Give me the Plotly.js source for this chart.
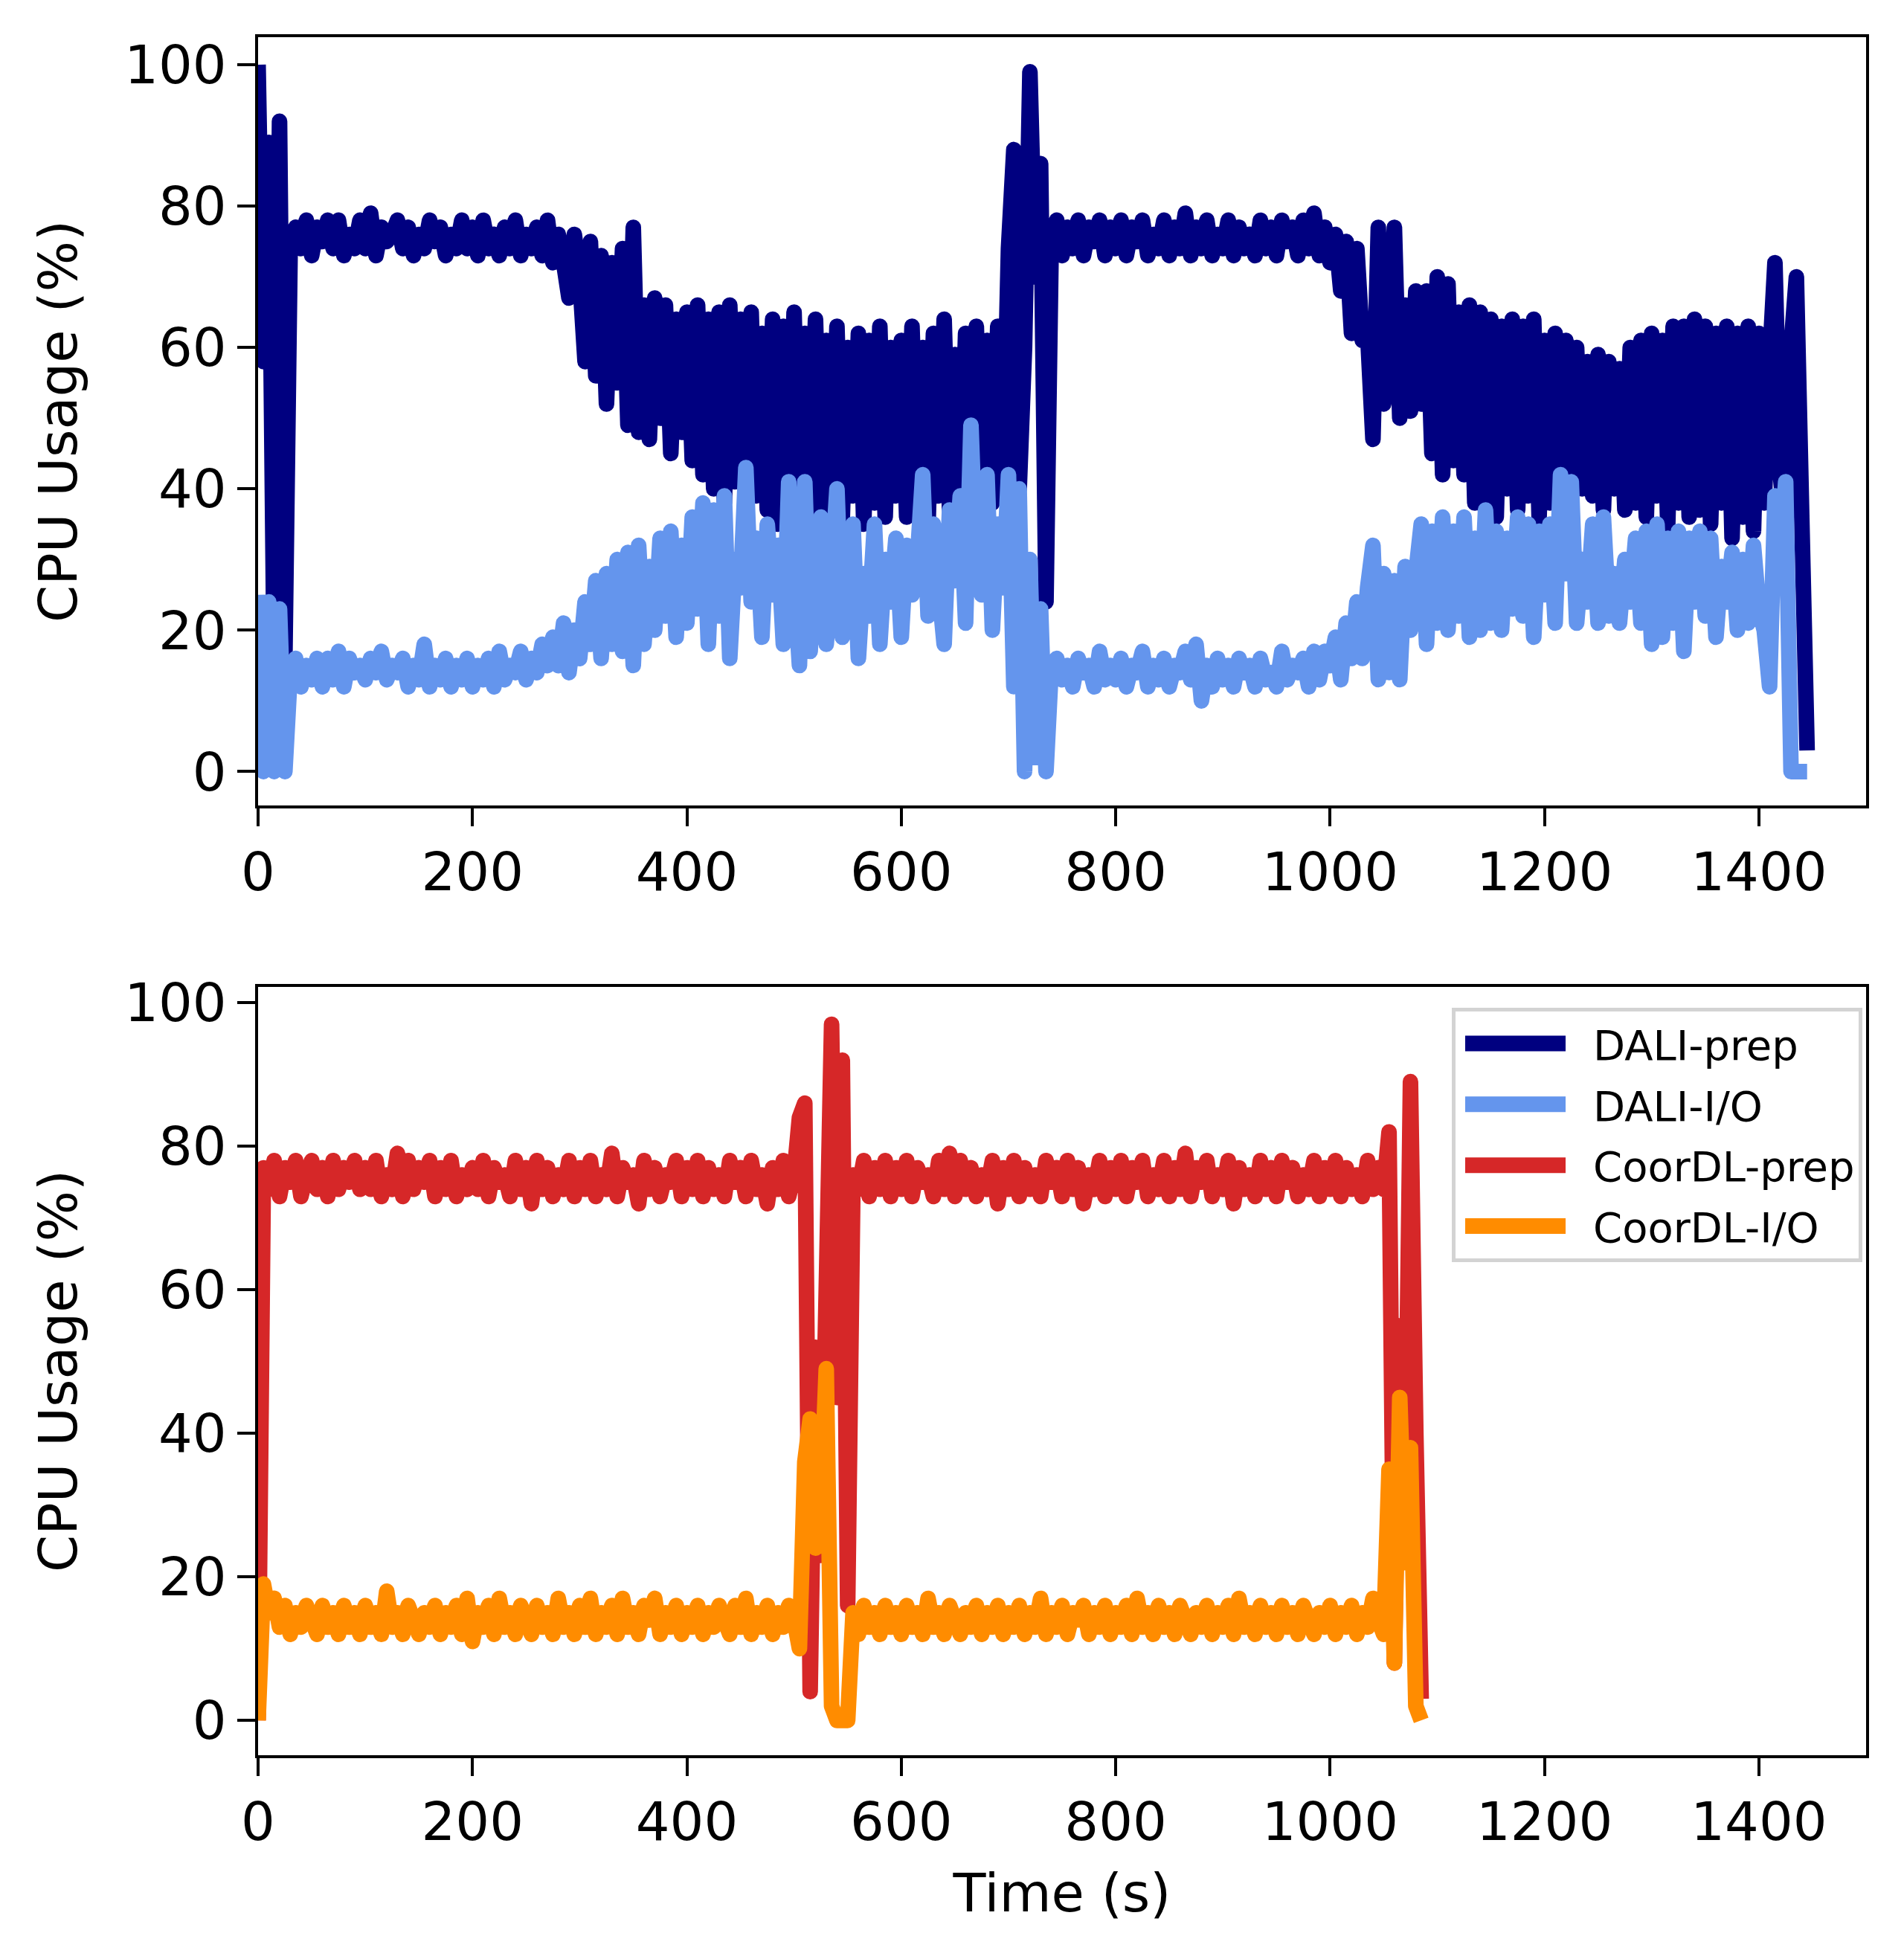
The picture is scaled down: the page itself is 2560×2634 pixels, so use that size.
<!DOCTYPE html>
<html>
<head>
<meta charset="utf-8">
<script src="https://cdn.plot.ly/plotly-3.0.1.min.js"></script>
<style>
  html, body { margin: 0; padding: 0; background: #ffffff; }
  #chart { width: 2560px; height: 2634px; }
  .scatterlayer .js-line { stroke-linejoin: round; }
  /* legend swatches: full line width, inset a little like matplotlib */
  .legend .legendlines path { stroke-width: 21px !important; stroke-dasharray: 0 8 135 1000 !important; }
</style>
</head>
<body>
<div id="chart"></div>
<script>
// samples are 5 s apart, starting at t = 0
const SAMPLE_STEP = 5;

const seriesNames = ["DALI-prep", "DALI-I/O", "CoorDL-prep", "CoorDL-I/O"];
const seriesColors = ["#000080", "#6495ed", "#d62728", "#ff8c00"];

const xTicks = [0, 200, 400, 600, 800, 1000, 1200, 1400];
const yTicks = [0, 20, 40, 60, 80, 100];

// DALI, t = 0 .. 1445 s
const daliPrep = [
  100, 58, 89, 15, 92, 16, 75, 77, 74, 78, 73, 77, 75, 78, 74, 78, 73, 76, 74, 78,
  74, 79, 73, 77, 75, 76, 78, 74, 77, 73, 76, 74, 78, 75, 77, 73, 76, 74, 78, 74,
  77, 73, 78, 74, 76, 73, 77, 74, 78, 73, 76, 74, 77, 73, 78, 72, 76, 72, 67, 76,
  70, 58, 75, 56, 73, 52, 72, 55, 74, 49, 77, 48, 66, 47, 67, 50, 66, 45, 64, 48,
  65, 44, 66, 42, 64, 40, 65, 38, 66, 41, 64, 36, 65, 39, 62, 37, 64, 35, 63, 38,
  65, 36, 62, 40, 64, 35, 61, 38, 63, 36, 60, 39, 62, 35, 61, 38, 63, 36, 60, 39,
  61, 36, 63, 38, 60, 35, 62, 39, 64, 37, 59, 36, 62, 40, 63, 37, 61, 38, 63, 42,
  74, 88, 40, 60, 99, 70, 86, 24, 76, 78, 73, 77, 74, 78, 73, 77, 75, 78, 73, 77,
  74, 78, 73, 77, 75, 78, 73, 76, 74, 78, 73, 77, 74, 79, 73, 77, 74, 78, 73, 76,
  74, 78, 73, 77, 74, 76, 73, 78, 74, 77, 73, 78, 75, 77, 73, 78, 74, 79, 73, 77,
  72, 76, 68, 75, 62, 74, 61, 62, 47, 77, 52, 62, 77, 50, 66, 51, 68, 52, 68, 45,
  70, 42, 69, 44, 65, 42, 66, 38, 65, 37, 64, 36, 63, 40, 64, 37, 63, 39, 64, 36,
  61, 38, 62, 35, 61, 39, 60, 40, 58, 39, 59, 37, 58, 40, 57, 37, 60, 38, 61, 36,
  62, 39, 61, 35, 63, 38, 63, 36, 64, 37, 63, 35, 62, 38, 63, 33, 62, 36, 63, 34,
  62, 38, 58, 72, 42, 34, 60, 70, 36, 3,
];

const daliIO = [
  25, 0, 24, 0, 23, 0, 14, 16, 12, 15, 13, 16, 12, 16, 13, 17, 12, 16, 14, 15,
  13, 16, 14, 17, 13, 15, 14, 16, 12, 15, 13, 18, 12, 15, 13, 16, 12, 15, 13, 16,
  12, 15, 13, 16, 12, 17, 13, 15, 14, 17, 13, 16, 14, 18, 15, 19, 15, 21, 14, 20,
  16, 24, 18, 27, 16, 28, 18, 30, 17, 31, 15, 32, 18, 29, 20, 33, 22, 34, 19, 32,
  21, 36, 23, 38, 18, 37, 22, 39, 16, 30, 26, 43, 24, 33, 19, 35, 25, 32, 18, 41,
  27, 15, 41, 17, 30, 36, 18, 28, 40, 19, 30, 35, 16, 28, 22, 35, 18, 30, 24, 33,
  19, 32, 25, 30, 42, 22, 35, 26, 18, 37, 27, 39, 21, 49, 28, 25, 42, 20, 35, 26,
  42, 12, 40, 0, 30, 2, 23, 0, 15, 16, 13, 15, 12, 16, 14, 15, 12, 17, 13, 15,
  13, 16, 12, 15, 14, 17, 12, 15, 13, 16, 12, 15, 14, 17, 13, 18, 10, 15, 12, 16,
  13, 15, 12, 16, 14, 15, 12, 16, 13, 14, 12, 17, 13, 15, 14, 16, 12, 17, 13, 17,
  15, 19, 13, 21, 16, 24, 16, 26, 32, 13, 28, 14, 27, 13, 29, 20, 28, 35, 18, 34,
  21, 36, 20, 34, 22, 36, 19, 33, 20, 37, 21, 34, 20, 33, 23, 36, 22, 35, 19, 34,
  25, 35, 21, 42, 28, 41, 21, 30, 24, 35, 21, 36, 22, 28, 21, 30, 24, 33, 21, 34,
  18, 35, 19, 33, 21, 34, 17, 33, 24, 34, 22, 33, 19, 29, 24, 31, 20, 30, 21, 32,
  23, 20, 12, 39, 30, 41, 0, 0, 0, 0,
];

// CoorDL, t = 0 .. 1085 s
const coordlPrep = [
  0, 77, 74, 78, 73, 77, 75, 78, 73, 76, 78, 74, 77, 73, 78, 74, 77, 75, 78, 74,
  77, 74, 78, 73, 76, 74, 79, 73, 78, 74, 77, 75, 78, 73, 77, 74, 78, 73, 76, 74,
  77, 74, 78, 73, 77, 75, 76, 73, 78, 74, 77, 72, 78, 74, 77, 73, 76, 74, 78, 73,
  77, 74, 78, 73, 76, 74, 79, 73, 77, 75, 76, 72, 78, 74, 77, 73, 76, 75, 78, 73,
  77, 74, 78, 73, 77, 74, 76, 73, 78, 75, 77, 73, 78, 74, 76, 72, 77, 74, 78, 73,
  76, 84, 86, 4, 52, 23, 60, 97, 45, 92, 16, 76, 74, 78, 73, 77, 74, 78, 73, 77,
  74, 78, 73, 77, 75, 76, 73, 78, 74, 79, 73, 78, 74, 77, 73, 76, 74, 78, 72, 77,
  74, 78, 73, 77, 74, 76, 73, 78, 75, 77, 73, 78, 74, 77, 72, 76, 74, 78, 73, 77,
  74, 78, 73, 77, 75, 78, 73, 76, 74, 78, 73, 77, 74, 79, 73, 77, 75, 78, 73, 76,
  74, 78, 72, 77, 74, 76, 73, 78, 74, 77, 73, 78, 75, 77, 73, 76, 74, 78, 73, 77,
  74, 78, 73, 77, 74, 76, 73, 78, 74, 77, 74, 82, 8, 55, 30, 89, 40, 3,
];

const coordlIO = [
  0, 19, 15, 17, 13, 16, 12, 15, 13, 16, 14, 12, 16, 13, 15, 12, 16, 13, 15, 12,
  16, 13, 15, 12, 18, 13, 15, 12, 16, 14, 12, 15, 13, 16, 12, 15, 13, 16, 12, 17,
  11, 15, 13, 16, 12, 17, 13, 15, 12, 16, 14, 12, 16, 13, 15, 12, 17, 13, 15, 12,
  16, 13, 17, 12, 15, 13, 16, 12, 17, 13, 15, 12, 16, 14, 17, 12, 15, 13, 16, 12,
  15, 13, 16, 12, 15, 13, 16, 14, 12, 16, 13, 17, 12, 15, 13, 16, 12, 15, 13, 16,
  14, 10, 36, 42, 24, 30, 49, 2, 0, 0, 0, 15, 12, 16, 13, 15, 12, 16, 13, 15,
  12, 16, 13, 15, 12, 17, 13, 15, 12, 16, 14, 12, 15, 13, 16, 12, 15, 13, 16, 12,
  15, 13, 16, 12, 15, 13, 17, 12, 15, 13, 16, 12, 15, 14, 16, 12, 15, 13, 16, 12,
  15, 13, 16, 12, 17, 13, 15, 12, 16, 13, 15, 12, 16, 14, 12, 15, 13, 16, 12, 15,
  13, 16, 12, 17, 13, 15, 12, 16, 13, 15, 12, 16, 13, 15, 12, 16, 14, 12, 15, 13,
  16, 12, 15, 13, 16, 12, 15, 13, 17, 14, 12, 35, 8, 45, 22, 38, 2, 0,
];

function timesFor(values) {
  return values.map((_, i) => i * SAMPLE_STEP);
}

function lineTrace(values, idx, xa, ya) {
  return {
    x: timesFor(values),
    y: values,
    type: "scatter",
    mode: "lines",
    name: seriesNames[idx],
    legendgroup: "g" + idx,
    xaxis: xa,
    yaxis: ya,
    line: { color: seriesColors[idx], width: 21, simplify: false },
    hoverinfo: "skip",
  };
}

function axisStyle(extra) {
  return {
    showline: true,
    mirror: true,
    linecolor: "#000000",
    linewidth: 4,
    ticks: "outside",
    ticklen: 24,
    tickwidth: 4,
    tickcolor: "#000000",
    showgrid: false,
    zeroline: false,
    tickfont: { size: 72 },
    ...extra,
  };
}

const traces = [
  lineTrace(daliPrep, 0, "x", "y"),
  lineTrace(daliIO, 1, "x", "y"),
  lineTrace(coordlPrep, 2, "x2", "y2"),
  lineTrace(coordlIO, 3, "x2", "y2"),
];

const layout = {
  width: 2560,
  height: 2634,
  margin: { l: 347, r: 51, t: 50, b: 274 },
  paper_bgcolor: "#ffffff",
  plot_bgcolor: "#ffffff",
  font: { family: "DejaVu Sans", size: 72, color: "#000000" },
  showlegend: true,
  legend: {
    x: 0.9977,
    y: 0.435,
    xanchor: "right",
    yanchor: "top",
    bgcolor: "#ffffff",
    bordercolor: "#d3d3d3",
    borderwidth: 5,
    font: { size: 56 },
    itemwidth: 175,
    tracegroupgap: 6,
  },
  xaxis: axisStyle({ domain: [0, 1], range: [0, 1500], tickvals: xTicks, anchor: "y" }),
  yaxis: axisStyle({
    domain: [0.5528, 1],
    range: [-4.8, 103.9],
    tickvals: yTicks,
    anchor: "x",
    title: { text: "CPU Usage (%)", font: { size: 72 }, standoff: 41 },
  }),
  xaxis2: axisStyle({
    domain: [0, 1],
    range: [0, 1500],
    tickvals: xTicks,
    anchor: "y2",
    title: { text: "Time (s)", font: { size: 72 }, standoff: 30 },
  }),
  yaxis2: axisStyle({
    domain: [0, 0.4472],
    range: [-4.85, 102.2],
    tickvals: yTicks,
    anchor: "x2",
    title: { text: "CPU Usage (%)", font: { size: 72 }, standoff: 41 },
  }),
};

Plotly.newPlot("chart", traces, layout, { displayModeBar: false, staticPlot: true });
</script>
</body>
</html>
